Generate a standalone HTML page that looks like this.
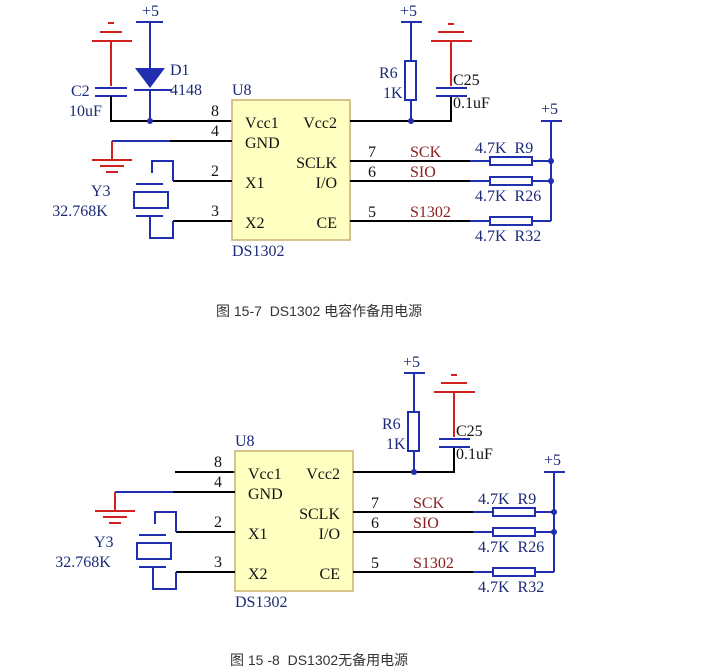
<!DOCTYPE html>
<html><head><meta charset="utf-8"><style>
html,body{margin:0;padding:0;background:#fff;}
svg{display:block;}
text{font-family:"Liberation Serif",serif;font-size:16px;}
.cap{font-family:"Liberation Sans","Noto Sans CJK SC",sans-serif;font-size:14px;fill:#333;}
.k{stroke:#000;stroke-width:2;fill:none}
.b{stroke:#1f2fb0;stroke-width:2;fill:none}
.r{stroke:#d02020;stroke-width:2;fill:none}
.n{fill:#1c2a78}
.d{fill:#111}
.s{fill:#8a2020}
</style></head><body>
<svg width="709" height="669" viewBox="0 0 709 669" xmlns="http://www.w3.org/2000/svg">
<g>
<path class="r" d="M92 41H132M100 32H122M108 23H114M111 41V86"/>
<path class="b" d="M95 88H127M95 96H127"/>
<path class="k" d="M111 96V121H232"/>
<path class="b" d="M136 22H163M150 22V68M150 90V121"/>
<polygon points="135,68 165,68 150,88" fill="#1f2fb0"/>
<path class="b" d="M134 90H172" stroke-width="3"/>
<circle cx="150" cy="121" r="3" fill="#1f2fb0"/>
<text x="142" y="16" class="n">+5</text>
<text x="170" y="75" class="n">D1</text>
<text x="170" y="95" class="n">4148</text>
<text x="71" y="96" class="n">C2</text>
<text x="69" y="116" class="n">10uF</text>
</g>
<g>
<rect x="232" y="100" width="118" height="140" fill="#ffffc2" stroke="#c8b070" stroke-width="1.5"/>
<path class="b" d="M112 141H170"/><path class="k" d="M170 141H232"/>
<path class="r" d="M112 141V160M92 160H132M100 166H124M106 172H118"/>
<path class="k" d="M173 181H232M173 221H232"/>
<path class="b" d="M152 173V161H173V181M136 184H163M136 216H163M150 217V238H173V221"/>
<rect x="134" y="192" width="34" height="16" class="b"/>
<text x="211" y="116" class="d">8</text><text x="211" y="136" class="d">4</text>
<text x="211" y="176" class="d">2</text><text x="211" y="216" class="d">3</text>
<text x="245" y="128" class="d">Vcc1</text><text x="245" y="148" class="d">GND</text>
<text x="245" y="188" class="d">X1</text><text x="245" y="228" class="d">X2</text>
<text x="337" y="128" class="d" text-anchor="end">Vcc2</text>
<text x="337" y="168" class="d" text-anchor="end">SCLK</text>
<text x="337" y="188" class="d" text-anchor="end">I/O</text>
<text x="337" y="228" class="d" text-anchor="end">CE</text>
<text x="232" y="95" class="n">U8</text><text x="232" y="256" class="n">DS1302</text>
<text x="91" y="196" class="n">Y3</text><text x="80" y="216" class="n" text-anchor="middle">32.768K</text>
<path class="k" d="M350 121H451V96"/>
<circle cx="411" cy="121" r="3" fill="#1f2fb0"/>
<path class="b" d="M401 22H422M411 22V61M411 100V121"/>
<rect x="405" y="61" width="11" height="39" class="b"/>
<text x="400" y="16" class="n">+5</text>
<text x="379" y="78" class="n">R6</text><text x="383" y="98" class="n">1K</text>
<path class="r" d="M431 41H472M438 32H464M448 24H454M451 41V86"/>
<path class="b" d="M436 88H467M436 96H467"/>
<text x="453" y="85" class="d">C25</text><text x="453" y="108" class="d">0.1uF</text>
<path class="b" d="M541 121H562M551 121V221"/>
<text x="541" y="114" class="n">+5</text>
<path class="k" d="M350 161H470M350 181H470M350 221H470"/>
<path class="b" d="M470 161H490M532 161H551M470 181H490M532 181H551M470 221H490M532 221H551"/>
<rect x="490" y="157" width="42" height="8" class="b"/>
<rect x="490" y="177" width="42" height="8" class="b"/>
<rect x="490" y="217" width="42" height="8" class="b"/>
<circle cx="551" cy="161" r="3" fill="#1f2fb0"/><circle cx="551" cy="181" r="3" fill="#1f2fb0"/>
<text x="368" y="157" class="d">7</text><text x="368" y="177" class="d">6</text><text x="368" y="217" class="d">5</text>
<text x="410" y="157" class="s">SCK</text><text x="410" y="177" class="s">SIO</text><text x="410" y="217" class="s">S1302</text>
<text x="475" y="153" class="n">4.7K&#160; R9</text>
<text x="475" y="201" class="n">4.7K&#160; R26</text>
<text x="475" y="241" class="n">4.7K&#160; R32</text>
</g>
<text x="216" y="316" class="cap">图 15-7&#160;&#160;DS1302 电容作备用电源</text>

<g transform="translate(3,351)">
<path class="k" d="M172 121H232"/>
<rect x="232" y="100" width="118" height="140" fill="#ffffc2" stroke="#c8b070" stroke-width="1.5"/>
<path class="b" d="M112 141H170"/><path class="k" d="M170 141H232"/>
<path class="r" d="M112 141V160M92 160H132M100 166H124M106 172H118"/>
<path class="k" d="M173 181H232M173 221H232"/>
<path class="b" d="M152 173V161H173V181M136 184H163M136 216H163M150 217V238H173V221"/>
<rect x="134" y="192" width="34" height="16" class="b"/>
<text x="211" y="116" class="d">8</text><text x="211" y="136" class="d">4</text>
<text x="211" y="176" class="d">2</text><text x="211" y="216" class="d">3</text>
<text x="245" y="128" class="d">Vcc1</text><text x="245" y="148" class="d">GND</text>
<text x="245" y="188" class="d">X1</text><text x="245" y="228" class="d">X2</text>
<text x="337" y="128" class="d" text-anchor="end">Vcc2</text>
<text x="337" y="168" class="d" text-anchor="end">SCLK</text>
<text x="337" y="188" class="d" text-anchor="end">I/O</text>
<text x="337" y="228" class="d" text-anchor="end">CE</text>
<text x="232" y="95" class="n">U8</text><text x="232" y="256" class="n">DS1302</text>
<text x="91" y="196" class="n">Y3</text><text x="80" y="216" class="n" text-anchor="middle">32.768K</text>
<path class="k" d="M350 121H451V96"/>
<circle cx="411" cy="121" r="3" fill="#1f2fb0"/>
<path class="b" d="M401 22H422M411 22V61M411 100V121"/>
<rect x="405" y="61" width="11" height="39" class="b"/>
<text x="400" y="16" class="n">+5</text>
<text x="379" y="78" class="n">R6</text><text x="383" y="98" class="n">1K</text>
<path class="r" d="M431 41H472M438 32H464M448 24H454M451 41V86"/>
<path class="b" d="M436 88H467M436 96H467"/>
<text x="453" y="85" class="d">C25</text><text x="453" y="108" class="d">0.1uF</text>
<path class="b" d="M541 121H562M551 121V221"/>
<text x="541" y="114" class="n">+5</text>
<path class="k" d="M350 161H470M350 181H470M350 221H470"/>
<path class="b" d="M470 161H490M532 161H551M470 181H490M532 181H551M470 221H490M532 221H551"/>
<rect x="490" y="157" width="42" height="8" class="b"/>
<rect x="490" y="177" width="42" height="8" class="b"/>
<rect x="490" y="217" width="42" height="8" class="b"/>
<circle cx="551" cy="161" r="3" fill="#1f2fb0"/><circle cx="551" cy="181" r="3" fill="#1f2fb0"/>
<text x="368" y="157" class="d">7</text><text x="368" y="177" class="d">6</text><text x="368" y="217" class="d">5</text>
<text x="410" y="157" class="s">SCK</text><text x="410" y="177" class="s">SIO</text><text x="410" y="217" class="s">S1302</text>
<text x="475" y="153" class="n">4.7K&#160; R9</text>
<text x="475" y="201" class="n">4.7K&#160; R26</text>
<text x="475" y="241" class="n">4.7K&#160; R32</text>
</g>
<text x="230" y="665" class="cap">图 15 -8&#160;&#160;DS1302无备用电源</text>
</svg>
</body></html>
